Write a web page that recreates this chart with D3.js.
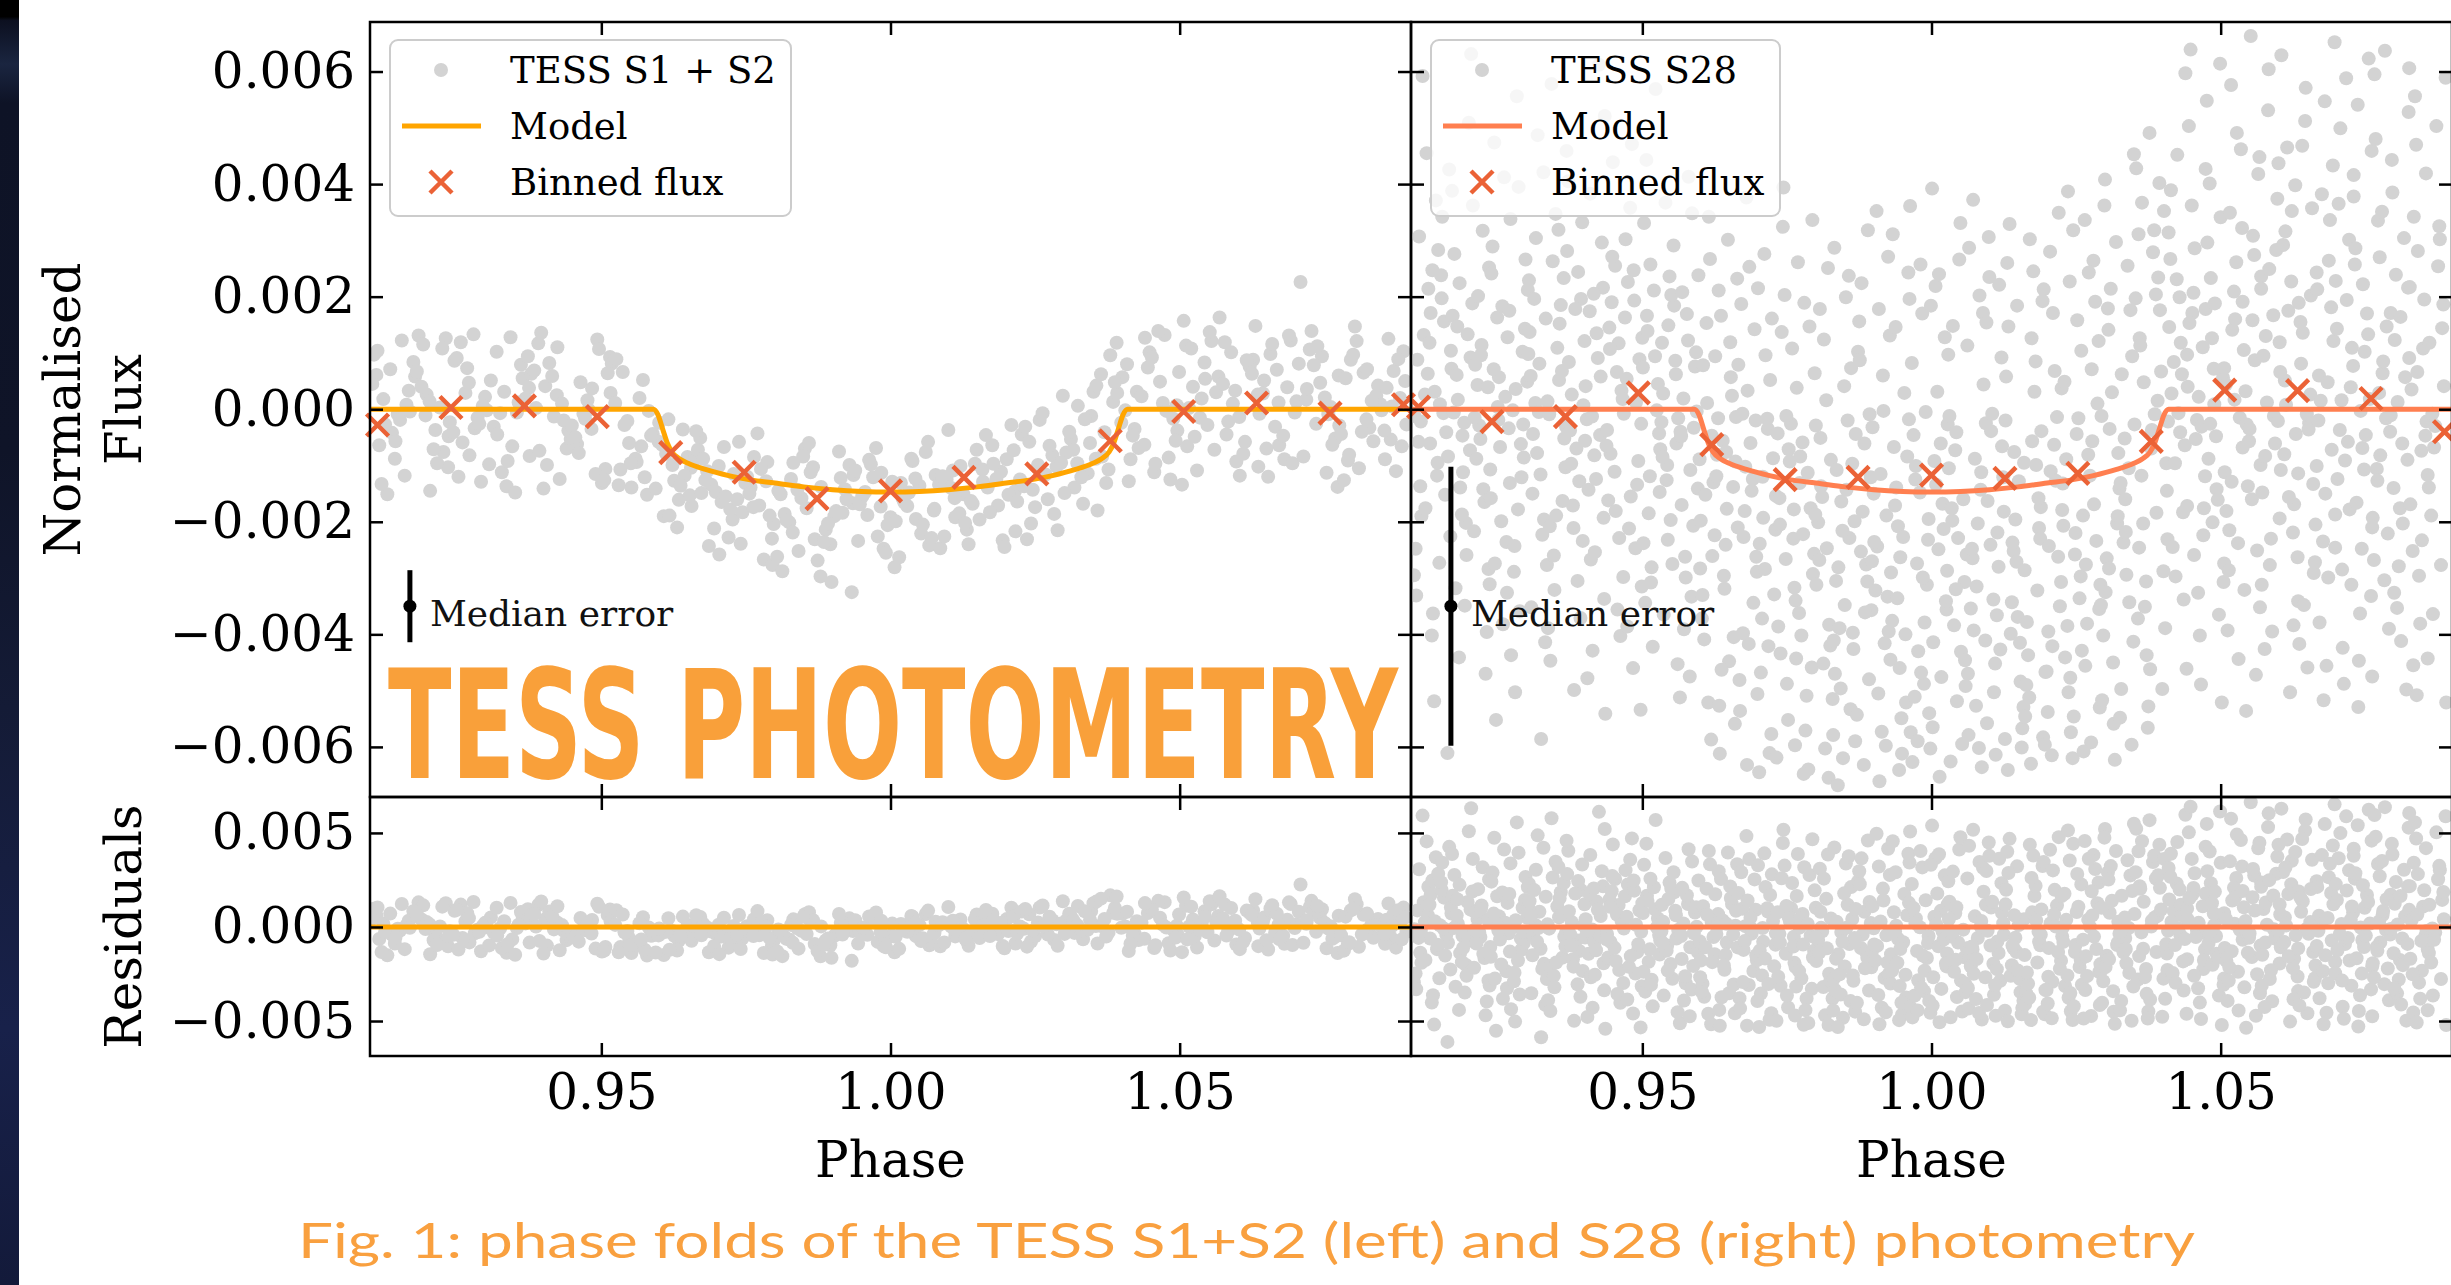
<!DOCTYPE html>
<html>
<head>
<meta charset="utf-8">
<script src="https://cdn.jsdelivr.net/npm/d3@7"></script>
<style>
  html, body { margin: 0; padding: 0; background: #fff; }
  svg { display: block; }
</style>
</head>
<body>
<svg id="chart" width="2451" height="1285"></svg>
<script>
// ---- data ----
// scatter points are flat pairs: phase x 1e4, normalised flux x 1e5
const s12Points = [
  9138,-42, 9111,61, 9160,-118, 9123,18, 9148,-9, 9107,97, 9130,-151, 9167,33, 9116,-64, 9155,122, 9126,-27, 9143,-88, 9104,45, 9163,8, 9120,-133, 9135,71, 9152,-19, 9113,104, 9144,-57, 9169,-4,
  9184,131, 9227,-76, 9198,26, 9235,-103, 9178,58, 9213,-37, 9192,115, 9221,3, 9204,-145, 9175,84, 9238,-23, 9189,40, 9210,-71, 9231,126, 9196,-11, 9181,67, 9216,-96, 9203,14, 9236,-48, 9225,108,
  9292,-129, 9265,29, 9246,86, 9281,-34, 9302,-2, 9257,119, 9272,-82, 9309,51, 9286,-15, 9253,-120, 9268,73, 9299,22, 9260,-59, 9279,133, 9244,-41, 9295,6, 9306,-98, 9271,47, 9250,91, 9289,-26,
  9336,-137, 9375,38, 9354,-6, 9319,102, 9346,-66, 9369,19, 9328,-112, 9361,79, 9314,-31, 9343,128, 9376,-83, 9325,-7, 9364,55, 9351,-148, 9332,31, 9373,94, 9320,-45, 9357,12, 9338,-92, 9379,63,
  9418,-13, 9391,117, 9440,-70, 9403,41, 9428,-124, 9387,2, 9410,82, 9447,-53, 9396,136, 9435,-20, 9406,-99, 9423,25, 9384,69, 9443,-38, 9400,-141, 9415,59, 9432,10, 9393,-74, 9424,110, 9449,-29,
  9464,48, 9507,-106, 9478,-1, 9515,93, 9458,-62, 9493,124, 9472,-17, 9501,-131, 9484,37, 9455,-50, 9518,81, 9469,-8, 9490,-115, 9511,64, 9476,16, 9461,-78, 9496,107, 9483,-35, 9516,29, 9505,-126,
  9572,52, 9545,-21, 9526,89, 9561,-94, 9582,-3, 9537,66, 9552,-139, 9589,-44, 9566,20, 9533,-107, 9548,-60, 9579,-152, 9540,-28, 9559,-88, 9524,11, 9575,-121, 9586,-47, 9551,-96, 9530,-135, 9569,-66,
  9616,-18, 9655,-104, 9634,-161, 9599,-58, 9626,-127, 9649,-85, 9608,-190, 9641,-36, 9594,-141, 9623,-99, 9656,-172, 9605,-63, 9644,-118, 9631,-210, 9612,-79, 9653,-153, 9600,-24, 9637,-136, 9618,-189, 9659,-92,
  9698,-147, 9671,-51, 9720,-228, 9683,-110, 9708,-165, 9667,-72, 9690,-134, 9727,-196, 9676,-88, 9715,-155, 9686,-243, 9703,-101, 9664,-39, 9723,-178, 9680,-126, 9695,-212, 9712,-67, 9673,-149, 9704,-258, 9729,-115,
  9744,-183, 9787,-94, 9758,-139, 9795,-230, 9738,-58, 9773,-171, 9752,-120, 9781,-267, 9764,-85, 9735,-160, 9798,-204, 9749,-131, 9770,-43, 9791,-189, 9756,-150, 9741,-239, 9776,-106, 9763,-174, 9796,-277, 9785,-128,
  9852,-70, 9825,-201, 9806,-145, 9841,-252, 9862,-112, 9817,-186, 9832,-95, 9869,-231, 9846,-158, 9813,-288, 9828,-124, 9859,-60, 9820,-197, 9839,-143, 9804,-262, 9855,-176, 9866,-103, 9831,-219, 9810,-151, 9849,-84,
  9896,-240, 9935,-167, 9914,-122, 9879,-297, 9906,-181, 9929,-99, 9888,-214, 9921,-142, 9874,-269, 9903,-190, 9936,-117, 9885,-236, 9924,-160, 9911,-75, 9892,-203, 9933,-325, 9880,-138, 9917,-184, 9898,-307, 9939,-109,
  9978,-226, 9951,-155, 10000,-192, 9963,-90, 9988,-248, 9947,-169, 9970,-121, 10007,-281, 9956,-147, 9995,-206, 9966,-98, 9983,-173, 9944,-234, 10003,-129, 9960,-188, 9975,-69, 9992,-255, 9953,-151, 9984,-113, 10009,-199,
  10024,-166, 10067,-242, 10038,-92, 10075,-180, 10018,-131, 10053,-221, 10032,-148, 10061,-76, 10044,-195, 10015,-263, 10078,-117, 10029,-172, 10050,-136, 10071,-229, 10036,-88, 10021,-159, 10056,-205, 10043,-123, 10076,-177, 10065,-58,
  10132,-214, 10105,-140, 10086,-247, 10121,-101, 10142,-168, 10097,-125, 10112,-192, 10149,-72, 10126,-151, 10093,-226, 10108,-109, 10139,-163, 10100,-37, 10119,-185, 10084,-134, 10135,-240, 10146,-97, 10111,-158, 10090,-119, 10129,-202,
  10176,-64, 10215,-146, 10194,-233, 10159,-107, 10186,-171, 10209,-28, 10168,-139, 10201,-89, 10154,-196, 10183,-124, 10216,-217, 10165,-46, 10204,-152, 10191,-111, 10172,-183, 10213,-73, 10160,-129, 10197,-245, 10178,-97, 10219,-164,
  10258,-19, 10231,-137, 10280,-82, 10243,-203, 10268,-116, 10227,-45, 10250,-174, 10287,-102, 10236,-231, 10275,-65, 10246,-143, 10263,-7, 10224,-125, 10283,-186, 10240,-58, 10255,-99, 10272,-160, 10233,-31, 10264,-118, 10289,-215,
  10304,-77, 10347,-12, 10318,-139, 10355,-88, 10298,24, 10333,-168, 10312,-53, 10341,-114, 10324,6, 10295,-95, 10358,-180, 10309,-40, 10330,-121, 10351,31, 10316,-72, 10301,-149, 10336,-18, 10323,-96, 10356,42, 10345,-60,
  10412,-128, 10385,13, 10366,-84, 10401,57, 10422,-35, 10377,-107, 10392,29, 10429,-69, 10406,-2, 10373,-131, 10388,48, 10419,-47, 10380,96, 10399,-24, 10364,62, 10415,-89, 10426,31, 10391,118, 10370,-41, 10409,80,
  10456,-112, 10495,7, 10474,132, 10439,-63, 10466,49, 10489,-17, 10448,101, 10481,-86, 10434,23, 10463,139, 10496,-38, 10445,74, 10484,-125, 10471,11, 10452,92, 10493,-56, 10440,127, 10477,-3, 10458,-97, 10499,66,
  10538,19, 10511,113, 10560,-72, 10523,40, 10548,-28, 10507,157, 10530,-109, 10567,58, 10516,2, 10555,121, 10526,-49, 10543,83, 10504,-134, 10563,30, 10520,108, 10535,-15, 10552,137, 10513,-66, 10544,54, 10569,163,
  10584,-22, 10627,88, 10598,-93, 10635,26, 10578,119, 10613,-58, 10592,10, 10621,76, 10604,-118, 10575,45, 10638,-8, 10589,101, 10610,-79, 10631,148, 10596,33, 10581,-45, 10616,87, 10603,-14, 10636,-102, 10625,63,
  10692,122, 10665,-31, 10646,51, 10681,-89, 10702,14, 10657,98, 10672,-64, 10709,226, 10686,39, 10653,-120, 10668,70, 10699,-6, 10660,116, 10679,-47, 10644,28, 10695,-96, 10706,81, 10671,12, 10650,-70, 10689,131,
  10736,-26, 10775,60, 10754,-113, 10719,17, 10746,94, 10769,-52, 10728,139, 10761,4, 10714,-84, 10743,47, 10776,-29, 10725,106, 10764,-63, 10751,21, 10732,78, 10773,-138, 10720,36, 10757,-9, 10738,112, 10779,-44,
  10818,65, 10791,-91, 10840,24, 10803,147, 10828,-33, 10787,55, 10810,-105, 10847,9, 10796,88, 10835,-57, 10806,121, 10823,-18, 10784,-126, 10843,42, 10800,97, 10815,-40, 10832,15, 10793,-81, 10824,71, 10849,-2,
  10874,-110, 10858,38, 10887,103, 10865,-54, 10881,20, 10855,-89, 10870,68, 10892,-27, 10861,125, 10884,-66, 10867,5, 10878,89, 10854,-38, 10890,50
];

const s28Points = [
  9122,132, 9108,-248, 9133,-61, 9114,307, 9127,455, 9106,-12, 9118,-190, 9136,-402, 9111,88, 9130,214, 9116,-137, 9124,26, 9105,-295, 9134,171, 9113,-58, 9120,592, 9129,63, 9109,-331, 9125,-176, 9137,247, 9117,-22, 9132,118,
  9143,371, 9164,-84, 9150,9, 9168,-226, 9140,-519, 9157,156, 9147,283, 9161,-41, 9153,197, 9138,-363, 9170,72, 9145,-118, 9156,-7, 9166,426, 9149,-273, 9141,31, 9159,-152, 9152,238, 9169,104, 9163,-611, 9146,-95, 9154,342,
  9195,-202, 9181,17, 9172,166, 9189,-47, 9200,509, 9177,-318, 9185,-139, 9203,92, 9192,-24, 9175,276, 9183,-441, 9198,133, 9179,61, 9188,-187, 9171,388, 9196,-259, 9202,-73, 9184,224, 9174,-6, 9193,-349, 9180,147, 9190,-112,
  9215,43, 9234,-284, 9224,317, 9206,188, 9220,-53, 9231,-396, 9211,79, 9227,-165, 9204,631, 9218,-29, 9235,252, 9209,-217, 9229,-470, 9222,114, 9213,-88, 9233,39, 9207,362, 9225,-142, 9216,201, 9236,-311, 9210,-15, 9221,96,
  9265,-236, 9244,474, 9252,57, 9237,-107, 9259,-382, 9249,163, 9269,-34, 9241,289, 9256,-199, 9263,22, 9247,-552, 9239,241, 9267,128, 9254,-67, 9245,-274, 9261,412, 9250,4, 9238,-158, 9258,183, 9266,-326, 9243,71, 9251,-19,
  9272,338, 9291,-121, 9279,-243, 9301,49, 9283,556, 9295,-86, 9270,175, 9288,-359, 9276,-2, 9298,266, 9285,-178, 9293,102, 9273,-437, 9281,36, 9302,212, 9290,-62, 9278,-289, 9297,143, 9286,395, 9271,-131, 9294,-27, 9280,-503,
  9322,81, 9304,229, 9330,-196, 9315,11, 9308,-352, 9333,161, 9319,487, 9311,-44, 9327,-223, 9303,98, 9324,-116, 9316,304, 9332,-414, 9307,59, 9321,-5, 9313,196, 9335,-277, 9310,-150, 9329,421, 9318,-78, 9305,137, 9325,-586,
  9345,263, 9368,-31, 9340,-208, 9356,52, 9350,347, 9362,-163, 9337,-389, 9353,109, 9365,-52, 9343,578, 9359,185, 9347,-260, 9336,14, 9367,-103, 9355,319, 9341,-447, 9361,68, 9351,-189, 9364,233, 9339,-9, 9348,-321, 9357,152,
  9386,-70, 9372,405, 9397,-234, 9378,26, 9391,-128, 9370,281, 9382,-499, 9400,121, 9375,-38, 9394,196, 9380,-171, 9388,-305, 9369,459, 9398,7, 9377,-97, 9384,178, 9393,-371, 9373,84, 9389,244, 9401,-56, 9381,-211, 9396,332,
  9407,-143, 9428,58, 9414,-429, 9432,216, 9404,-18, 9421,135, 9411,-267, 9425,612, 9417,-82, 9402,41, 9434,-337, 9409,174, 9420,-124, 9430,296, 9413,-13, 9405,-478, 9423,91, 9416,205, 9433,-193, 9427,-46, 9410,383, 9418,-254,
  9459,117, 9445,-79, 9436,-541, 9453,255, 9464,33, 9441,-162, 9449,439, 9467,-298, 9456,66, 9439,-37, 9447,190, 9462,-403, 9443,145, 9452,-111, 9435,521, 9460,-229, 9466,18, 9448,271, 9438,-65, 9457,-356, 9444,107, 9454,-181,
  9479,358, 9498,-26, 9488,-247, 9470,163, 9484,-460, 9495,89, 9475,226, 9491,-134, 9468,-8, 9482,471, 9499,-315, 9473,54, 9493,-92, 9486,193, 9477,-212, 9497,-534, 9471,302, 9489,12, 9480,-155, 9500,127, 9474,-386, 9485,247,
  9529,-43, 9508,166, 9516,-281, 9501,74, 9523,569, 9513,-119, 9533,-23, 9505,-344, 9520,211, 9527,45, 9511,-185, 9503,331, 9531,-71, 9518,-422, 9509,139, 9525,-2, 9514,257, 9502,-238, 9522,94, 9530,-147, 9507,443, 9515,-308,
  9536,28, 9555,184, 9543,-99, 9565,-512, 9547,236, 9559,-61, 9534,118, 9552,-275, 9540,367, 9562,-16, 9549,-197, 9557,86, 9537,-365, 9545,149, 9566,-40, 9554,291, 9542,-126, 9561,-453, 9550,203, 9535,-85, 9558,62, 9544,-232,
  9586,348, 9568,-170, 9594,-4, 9579,122, 9572,-391, 9597,238, 9583,-108, 9575,-299, 9591,76, 9567,-48, 9588,-207, 9580,413, 9596,-141, 9571,19, 9585,-333, 9577,169, 9599,-89, 9574,-262, 9593,101, 9582,-475, 9569,208, 9589,-33,
  9609,-152, 9632,211, 9604,-330, 9620,-47, 9614,-521, 9626,94, 9601,-198, 9617,267, 9629,-81, 9607,-409, 9623,-130, 9611,153, 9600,-283, 9631,-16, 9619,-587, 9605,78, 9625,-224, 9615,342, 9628,-119, 9603,-372, 9612,11, 9621,-261,
  9650,-448, 9636,166, 9661,-93, 9642,-319, 9655,24, 9634,-612, 9646,-177, 9664,232, 9639,-56, 9658,-405, 9644,-241, 9652,119, 9633,-527, 9662,-14, 9641,-296, 9648,301, 9657,-138, 9637,-463, 9653,57, 9665,-210, 9645,-76, 9660,-559,
  9671,187, 9692,-344, 9678,-102, 9696,-20, 9668,-481, 9685,253, 9675,-227, 9689,-145, 9681,-632, 9666,79, 9698,-289, 9673,-8, 9684,-417, 9694,142, 9677,-181, 9669,-536, 9687,-60, 9680,376, 9697,-262, 9691,-124, 9674,-398, 9682,33,
  9723,-577, 9709,-193, 9700,215, 9717,-35, 9728,-329, 9705,-468, 9713,96, 9731,-154, 9720,-611, 9703,-239, 9711,276, 9726,-87, 9707,-372, 9716,-17, 9699,-506, 9724,161, 9730,-214, 9712,-284, 9702,-645, 9721,52, 9708,-120, 9718,-421,
  9743,324, 9762,-178, 9752,-552, 9734,-43, 9748,-266, 9759,108, 9739,-434, 9755,-93, 9732,-619, 9746,203, 9763,-317, 9737,-158, 9757,-26, 9750,-488, 9741,137, 9761,-230, 9735,-386, 9753,-71, 9744,394, 9764,-597, 9738,-205, 9749,-12,
  9793,-459, 9772,-131, 9780,189, 9765,-340, 9787,-640, 9777,-59, 9797,-257, 9769,261, 9784,-509, 9791,-176, 9775,-402, 9767,38, 9795,-293, 9782,-571, 9773,-84, 9789,147, 9778,-222, 9766,-443, 9786,-113, 9794,336, 9771,-362, 9779,-648,
  9800,-29, 9819,-247, 9807,178, 9829,-515, 9811,-156, 9823,-383, 9798,64, 9816,-603, 9804,-201, 9826,-90, 9813,-452, 9821,251, 9801,-312, 9809,-137, 9830,-579, 9818,16, 9806,-268, 9825,-420, 9814,124, 9799,-187, 9822,-655, 9808,-51,
  9850,-348, 9832,287, 9858,-229, 9843,-496, 9836,-108, 9861,73, 9847,-620, 9839,-281, 9855,-20, 9831,-411, 9852,199, 9844,-164, 9860,-533, 9835,-305, 9849,41, 9841,-389, 9863,-97, 9838,-668, 9857,237, 9846,-216, 9833,-470, 9853,-143,
  9873,102, 9896,-357, 9868,-590, 9884,-61, 9878,-253, 9890,318, 9865,-426, 9881,-182, 9893,-9, 9871,-543, 9887,-276, 9875,156, 9864,-397, 9895,-121, 9883,-632, 9869,-44, 9889,-306, 9879,224, 9892,-480, 9867,-199, 9876,87, 9885,-361,
  9914,-573, 9900,-150, 9925,271, 9906,-244, 9919,-416, 9898,-32, 9910,-661, 9928,131, 9903,-322, 9922,-189, 9908,-505, 9916,60, 9897,-270, 9926,-395, 9905,352, 9912,-115, 9921,-598, 9901,-236, 9917,-3, 9929,-445, 9909,178, 9924,-333,
  9935,-67, 9956,-521, 9942,-208, 9960,243, 9932,-376, 9949,-612, 9939,-139, 9953,29, 9945,-460, 9930,-290, 9962,196, 9937,-171, 9948,-549, 9958,-84, 9941,-336, 9933,311, 9951,-227, 9944,-641, 9961,-18, 9955,-400, 9938,146, 9946,-263,
  9987,-488, 9973,-101, 9964,-574, 9981,257, 9992,-312, 9969,-46, 9977,-430, 9995,-195, 9984,170, 9967,-627, 9975,-274, 9990,-5, 9971,-511, 9980,-148, 9963,361, 9988,-379, 9994,-232, 9976,-590, 9966,82, 9985,-299, 9972,-125, 9982,-468,
  10007,219, 10026,-356, 10016,-61, 9998,-603, 10012,-249, 10023,128, 10003,-414, 10019,-168, 9996,-540, 10010,31, 10027,-287, 10001,392, 10021,-213, 10014,-653, 10005,-92, 10025,-341, 9999,184, 10017,-476, 10008,-134, 10028,-27, 10002,-565, 10013,240,
  10057,-307, 10036,-198, 10044,-519, 10029,97, 10051,-431, 10041,-73, 10061,-258, 10033,-626, 10048,266, 10055,-160, 10039,-384, 10031,-12, 10059,-492, 10046,-229, 10037,148, 10053,-595, 10042,-320, 10030,-105, 10050,331, 10058,-446, 10035,-176, 10043,-41,
  10064,-579, 10083,202, 10071,-265, 10093,-411, 10075,-88, 10087,-636, 10062,113, 10080,-203, 10068,-354, 10090,44, 10077,-527, 10085,-143, 10065,287, 10073,-393, 10094,-25, 10082,-602, 10070,-248, 10089,171, 10078,-315, 10063,-470, 10086,-112, 10072,372,
  10114,-219, 10096,-558, 10122,-66, 10107,-338, 10100,235, 10125,-182, 10111,-614, 10103,-39, 10119,-427, 10095,154, 10116,-280, 10108,-503, 10124,-121, 10099,306, 10113,-366, 10105,-8, 10127,-586, 10102,-241, 10121,92, 10110,-452, 10097,-163, 10117,221,
  10137,-399, 10160,-95, 10132,-641, 10148,184, 10142,-252, 10154,-484, 10129,58, 10145,-196, 10157,-567, 10135,329, 10151,-128, 10139,-343, 10128,-20, 10159,-529, 10147,-271, 10133,147, 10153,-415, 10143,-76, 10156,-601, 10131,260, 10140,-237, 10149,-369,
  10178,31, 10164,-490, 10189,-174, 10170,302, 10183,-322, 10162,-546, 10174,-57, 10192,192, 10167,-437, 10186,-211, 10172,-630, 10180,85, 10161,-286, 10190,-39, 10169,-512, 10176,245, 10185,-158, 10165,-378, 10181,-99, 10193,-583, 10173,126, 10188,-230,
  10199,-466, 10220,349, 10206,-110, 10224,-307, 10196,-596, 10213,68, 10203,-243, 10217,-14, 10209,-421, 10194,213, 10226,-179, 10201,-538, 10212,-63, 10222,-350, 10205,280, 10197,-467, 10215,-127, 10208,-615, 10225,37, 10219,-262, 10202,-395, 10210,171,
  10251,-44, 10237,-503, 10228,-207, 10245,318, 10256,-336, 10233,-89, 10241,-574, 10259,104, 10248,-258, 10231,-441, 10239,227, 10254,-16, 10235,-385, 10244,-620, 10227,-132, 10252,158, 10258,-297, 10240,-477, 10230,49, 10249,-220, 10236,387, 10246,-546,
  10271,-81, 10290,-355, 10280,264, 10262,-189, 10276,-592, 10287,10, 10267,-276, 10283,191, 10260,-429, 10274,-118, 10291,-530, 10265,336, 10285,-234, 10278,-57, 10269,-381, 10289,121, 10263,-608, 10281,-169, 10272,243, 10292,-312, 10266,-456, 10277,71,
  10321,-203, 10300,408, 10308,-35, 10293,-348, 10315,-559, 10305,179, 10325,-141, 10297,-402, 10312,30, 10319,297, 10303,-265, 10295,-517, 10323,-78, 10310,214, 10301,-325, 10317,-623, 10306,141, 10294,-12, 10314,-450, 10322,-190, 10299,362, 10307,-283,
  10328,-497, 10347,94, 10335,-160, 10357,-372, 10339,255, 10351,-27, 10326,-548, 10344,176, 10332,-237, 10354,428, 10341,-105, 10349,-413, 10329,62, 10337,-294, 10358,311, 10346,-596, 10334,-52, 10353,197, 10342,-343, 10327,-131, 10350,453, 10336,-218,
  10378,-462, 10360,126, 10386,-9, 10371,-306, 10364,367, 10389,-184, 10375,-528, 10367,48, 10383,279, 10359,-246, 10380,-70, 10372,-437, 10388,204, 10363,-118, 10377,491, 10369,-351, 10391,15, 10366,-203, 10385,318, 10374,-566, 10361,113, 10381,-37,
  10401,-288, 10394,402, 10407,-145, 10397,67, 10404,-389, 10392,234, 10409,-22, 10399,-497, 10395,176, 10406,-96, 10402,352, 10408,-231,
  10419,84, 10442,-172, 10414,389, 10430,-41, 10424,231, 10436,-338, 10411,146, 10427,-7, 10439,597, 10417,-245, 10433,62, 10421,-96, 10410,314, 10441,-461, 10429,199, 10415,28, 10435,-183, 10425,452, 10438,-64, 10413,267, 10422,-297, 10431,118,
  10459,-19, 10445,503, 10470,-224, 10451,171, 10464,-402, 10443,40, 10455,286, 10473,-119, 10448,639, 10467,-31, 10453,207, 10461,-326, 10442,97, 10471,-176, 10450,362, 10457,-53, 10466,-489, 10446,153, 10462,22, 10474,427, 10454,-259, 10469,110,
  10479,-88, 10500,341, 10486,-201, 10504,56, 10476,548, 10493,-142, 10483,233, 10497,-365, 10489,9, 10474,178, 10506,-274, 10481,401, 10492,-48, 10502,-521, 10485,126, 10477,296, 10495,-161, 10488,72, 10505,-307, 10499,614, 10482,-26, 10490,188,
  10530,-238, 10516,349, 10507,-112, 10524,17, 10535,462, 10512,-393, 10520,141, 10538,-68, 10527,261, 10510,-181, 10518,576, 10533,-15, 10514,-286, 10523,209, 10506,73, 10531,-444, 10537,322, 10519,-129, 10509,44, 10528,491, 10515,-215, 10525,160,
  10549,-57, 10568,-352, 10558,274, 10540,105, 10554,-160, 10565,418, 10545,-27, 10561,-472, 10538,191, 10552,663, 10569,-99, 10543,32, 10563,-251, 10556,308, 10547,-137, 10567,448, 10541,-321, 10559,87, 10550,-35, 10570,236, 10544,-536, 10555,158,
  10598,374, 10577,-83, 10585,-277, 10570,214, 10592,-12, 10582,531, 10602,-194, 10574,95, 10589,-395, 10596,283, 10580,12, 10572,-148, 10600,437, 10587,-230, 10578,130, 10594,-61, 10583,604, 10571,-312, 10591,167, 10599,-21, 10576,-426, 10584,249,
  10604,-108, 10623,352, 10611,51, 10633,-263, 10615,465, 10627,-169, 10602,119, 10620,-503, 10608,292, 10630,-44, 10617,175, 10625,-219, 10605,629, 10613,8, 10634,-341, 10622,227, 10610,-80, 10629,398, 10618,-156, 10603,66, 10626,-384, 10612,316,
  10653,-25, 10635,189, 10661,-291, 10646,512, 10639,81, 10664,-205, 10650,-459, 10642,136, 10658,357, 10634,-114, 10655,26, 10647,571, 10663,-272, 10638,155, 10652,-36, 10644,-348, 10666,243, 10641,468, 10660,-133, 10649,-9, 10636,-417, 10656,202,
  10675,382, 10698,-187, 10670,60, 10686,-299, 10680,547, 10692,-72, 10667,213, 10683,-456, 10695,121, 10673,15, 10689,336, 10677,-235, 10666,-101, 10697,652, 10685,48, 10671,-379, 10691,181, 10681,-150, 10694,433, 10669,-20, 10678,-517, 10687,264,
  10715,-91, 10701,143, 10726,-312, 10707,499, 10720,-58, 10699,228, 10711,-424, 10729,77, 10704,365, 10723,-178, 10709,16, 10717,588, 10698,-246, 10727,109, 10706,-37, 10713,-488, 10722,301, 10702,-124, 10718,194, 10730,416, 10710,-285, 10725,39,
  10735,-166, 10756,623, 10742,-3, 10760,-332, 10732,257, 10749,102, 10739,-447, 10753,170, 10745,-69, 10730,378, 10762,-210, 10737,541, 10748,-107, 10758,18, 10741,-363, 10733,286, 10751,-46, 10744,-248, 10761,459, 10755,133, 10738,-529, 10746,222,
  10786,-16, 10772,335, 10763,-193, 10780,64, 10791,-390, 10768,480, 10776,-82, 10794,171, 10783,-304, 10766,595, 10774,29, 10789,-221, 10770,-106, 10779,351, 10762,-475, 10787,147, 10793,-40, 10775,270, 10765,-268, 10784,637, 10771,-127, 10781,85,
  10805,-353, 10824,216, 10814,-61, 10796,443, 10810,-176, 10821,-498, 10801,123, 10817,304, 10794,-11, 10808,-279, 10825,528, 10799,-140, 10819,57, 10812,-412, 10803,239, 10823,-90, 10797,385, 10815,-203, 10806,13, 10826,606, 10800,-326, 10811,164,
  10854,-47, 10833,-455, 10841,281, 10826,91, 10848,-233, 10838,470, 10858,-117, 10830,35, 10845,-381, 10852,195, 10836,556, 10828,-169, 10856,-22, 10843,-296, 10834,342, 10850,108, 10839,-508, 10827,217, 10847,-74, 10855,419, 10832,-252, 10840,66,
  10860,-139, 10879,302, 10867,-364, 10889,589, 10871,-30, 10883,144, 10858,-443, 10876,254, 10864,-189, 10886,41, 10873,503, 10881,-277, 10861,118, 10869,-68, 10890,-521, 10878,325, 10866,-8, 10885,186
];

// transit model (same shape in both folds)
const modelPhase = [0.9100, 0.9590, 0.9598, 0.9606, 0.9614, 0.9622, 0.9635, 0.9650, 0.9680, 0.9720, 0.9760, 0.9800, 0.9850, 0.9900, 0.9950, 1.0000,
                    1.0050, 1.0100, 1.0150, 1.0200, 1.0240, 1.0280, 1.0320, 1.0350, 1.0365, 1.0378, 1.0386, 1.0394, 1.0402, 1.0410, 1.0900];
const modelFlux = [0, 0, -0.00010, -0.00035, -0.00060, -0.00076, -0.00088, -0.00096, -0.00107, -0.00118, -0.00126, -0.00131, -0.00138, -0.00143, -0.00146, -0.00147,
                   -0.00146, -0.00143, -0.00138, -0.00131, -0.00126, -0.00118, -0.00107, -0.00096, -0.00088, -0.00076, -0.00060, -0.00035, -0.00010, 0, 0];

// binned flux (x marks)
const binPhase = [0.9113, 0.9240, 0.9367, 0.9493, 0.9620, 0.9747, 0.9873, 1.0000, 1.0127, 1.0253, 1.0380, 1.0507, 1.0633, 1.0760, 1.0887];
const binS12 = [-0.00028, 0.00003, 0.00006, -0.00013, -0.00077, -0.00112, -0.00159, -0.00145, -0.00121, -0.00115, -0.00056, -0.00004, 0.00011, -0.00007, 0.00008];
const binS28 = [0.00004, -0.00022, -0.00013, 0.00029, -0.00063, -0.00125, -0.00121, -0.00117, -0.00123, -0.00114, -0.00057, 0.00034, 0.00033, 0.00019, -0.00040];

// median error bar: [phase, flux] and half length
const medianErrPos = [0.9169, -0.0035];
const medianErrS12 = 0.00064;
const medianErrS28 = 0.00248;

const fluxTicks = [-0.006, -0.004, -0.002, 0, 0.002, 0.004, 0.006];
const residTicks = [-0.005, 0, 0.005];
const phaseTicks = [0.95, 1.00, 1.05];

const panels = [
  { points: s12Points, bins: binS12, err: medianErrS12, color: '#FFA500', label: 'TESS S1 + S2', x0: 370, x1: 1411, legendW: 401 },
  { points: s28Points, bins: binS28, err: medianErrS28, color: '#FF7F50', label: 'TESS S28', x0: 1411, x1: 2452, legendW: 349 },
];

// ---- layout ----
const W = 2451, H = 1285;
const topY0 = 22, topY1 = 797, resY1 = 1056;
const SERIF = '"DejaVu Serif", serif';
const GREY = '#D3D3D3';
const XCOL = '#EB6236';

const svg = d3.select('#chart');
svg.append('rect').attr('width', W).attr('height', H).attr('fill', '#fff');

// dark strip on the left edge of the slide
const defs = svg.append('defs');
const grad = defs.append('linearGradient').attr('id', 'strip').attr('x1', 0).attr('y1', 0).attr('x2', 0).attr('y2', 1);
[[0, '#000000'], [0.013, '#000000'], [0.016, '#0c1020'], [0.05, '#1a2540'], [0.08, '#0e1326'], [0.35, '#0f1428'],
 [0.55, '#141b36'], [0.8, '#18214a'], [1, '#131a3a']].forEach(([o, c]) => grad.append('stop').attr('offset', o).attr('stop-color', c));
svg.append('rect').attr('x', 0).attr('y', 0).attr('width', 19).attr('height', H).attr('fill', 'url(#strip)');

const modelScale = d3.scaleLinear().domain(modelPhase).range(modelFlux);
const yTop = d3.scaleLinear().domain([-0.00689, 0.00688]).range([topY1, topY0]);
const yRes = d3.scaleLinear().domain([-0.00686, 0.00691]).range([resY1, topY1]);

const crossPath = 'M-11,-11L11,11M11,-11L-11,11';

panels.forEach((p, i) => {
  const x = d3.scaleLinear().domain([0.91, 1.09]).range([p.x0, p.x1]);
  const pts = d3.range(0, p.points.length, 2).map(k => ({ phase: p.points[k] / 1e4, flux: p.points[k + 1] / 1e5 }));

  defs.append('clipPath').attr('id', `clipTop${i}`).append('rect')
    .attr('x', p.x0).attr('y', topY0).attr('width', p.x1 - p.x0).attr('height', topY1 - topY0);
  defs.append('clipPath').attr('id', `clipRes${i}`).append('rect')
    .attr('x', p.x0).attr('y', topY1).attr('width', p.x1 - p.x0).attr('height', resY1 - topY1);

  // --- upper panel
  const gTop = svg.append('g');
  gTop.append('g').attr('clip-path', `url(#clipTop${i})`)
    .selectAll('circle').data(pts).join('circle')
    .attr('cx', d => x(d.phase)).attr('cy', d => yTop(d.flux)).attr('r', 7).attr('fill', GREY);

  const line = d3.line().x((d, k) => x(modelPhase[k])).y(d => yTop(d)).curve(d3.curveMonotoneX);
  gTop.append('path').datum(modelFlux).attr('d', line)
    .attr('fill', 'none').attr('stroke', p.color).attr('stroke-width', 5).attr('clip-path', `url(#clipTop${i})`);

  gTop.selectAll('path.bin').data(p.bins).join('path').attr('class', 'bin')
    .attr('transform', (d, k) => `translate(${x(binPhase[k])},${yTop(d)})`)
    .attr('d', crossPath).attr('stroke', XCOL).attr('stroke-width', 4.5).attr('fill', 'none');

  // median error
  const ex = x(medianErrPos[0]), ey = yTop(medianErrPos[1]);
  gTop.append('line').attr('x1', ex).attr('x2', ex)
    .attr('y1', yTop(medianErrPos[1] + p.err)).attr('y2', yTop(medianErrPos[1] - p.err))
    .attr('stroke', '#000').attr('stroke-width', 5);
  gTop.append('circle').attr('cx', ex).attr('cy', ey).attr('r', 6.5).attr('fill', '#000');
  gTop.append('text').attr('x', ex + 20).attr('y', ey + 20)
    .attr('font-family', SERIF).attr('font-size', 36).attr('fill', '#111').text('Median error');

  // --- residual panel
  const gRes = svg.append('g');
  gRes.append('g').attr('clip-path', `url(#clipRes${i})`)
    .selectAll('circle').data(pts).join('circle')
    .attr('cx', d => x(d.phase)).attr('cy', d => yRes(d.flux - modelScale(d.phase))).attr('r', 7).attr('fill', GREY);
  gRes.append('line').attr('x1', p.x0).attr('x2', p.x1).attr('y1', yRes(0)).attr('y2', yRes(0))
    .attr('stroke', p.color).attr('stroke-width', 5);

  // --- axes, inward ticks on all sides
  const tick = 13;
  const axisStyle = g => {
    g.select('.domain').remove();
    g.selectAll('.tick line').attr('stroke', '#000').attr('stroke-width', 2.5);
    g.selectAll('.tick text').attr('font-family', SERIF).attr('font-size', 50).attr('fill', '#000');
  };
  const fmtY = d3.format('.3f');
  const fmtX = d3.format('.2f');
  const none = () => '';

  svg.append('g').attr('transform', `translate(${p.x0},0)`)
    .call(d3.axisLeft(yTop).tickValues(fluxTicks).tickSize(-tick).tickPadding(15).tickFormat(i === 0 ? fmtY : none))
    .call(axisStyle);
  svg.append('g').attr('transform', `translate(${p.x1},0)`)
    .call(d3.axisRight(yTop).tickValues(fluxTicks).tickSize(-tick).tickFormat(none)).call(axisStyle);
  svg.append('g').attr('transform', `translate(${p.x0},0)`)
    .call(d3.axisLeft(yRes).tickValues(residTicks).tickSize(-tick).tickPadding(15).tickFormat(i === 0 ? fmtY : none))
    .call(axisStyle);
  svg.append('g').attr('transform', `translate(${p.x1},0)`)
    .call(d3.axisRight(yRes).tickValues(residTicks).tickSize(-tick).tickFormat(none)).call(axisStyle);

  svg.append('g').attr('transform', `translate(0,${topY0})`)
    .call(d3.axisTop(x).tickValues(phaseTicks).tickSize(-tick).tickFormat(none)).call(axisStyle);
  svg.append('g').attr('transform', `translate(0,${topY1})`)
    .call(d3.axisBottom(x).tickValues(phaseTicks).tickSize(-tick).tickFormat(none)).call(axisStyle);
  svg.append('g').attr('transform', `translate(0,${topY1})`)
    .call(d3.axisTop(x).tickValues(phaseTicks).tickSize(-tick).tickFormat(none)).call(axisStyle);
  svg.append('g').attr('transform', `translate(0,${resY1})`)
    .call(d3.axisBottom(x).tickValues(phaseTicks).tickSize(-tick).tickPadding(17).tickFormat(fmtX)).call(axisStyle);

  // frames
  [[topY0, topY1], [topY1, resY1]].forEach(([a, b]) => {
    svg.append('rect').attr('x', p.x0).attr('y', a).attr('width', p.x1 - p.x0).attr('height', b - a)
      .attr('fill', 'none').attr('stroke', '#000').attr('stroke-width', 2.5);
  });

  // x label
  svg.append('text').attr('x', (p.x0 + p.x1) / 2).attr('y', 1177).attr('text-anchor', 'middle')
    .attr('font-family', SERIF).attr('font-size', 50).attr('fill', '#000').text('Phase');

  // legend
  const lx = p.x0 + 20, ly = 40;
  const lg = svg.append('g');
  lg.append('rect').attr('x', lx).attr('y', ly).attr('width', p.legendW).attr('height', 176).attr('rx', 8)
    .attr('fill', '#fff').attr('fill-opacity', 0.8).attr('stroke', '#cccccc').attr('stroke-width', 2);
  const rows = [70, 126, 182];
  lg.append('circle').attr('cx', lx + 51).attr('cy', rows[0]).attr('r', 7).attr('fill', GREY);
  lg.append('line').attr('x1', lx + 12).attr('x2', lx + 91).attr('y1', rows[1]).attr('y2', rows[1])
    .attr('stroke', p.color).attr('stroke-width', 5);
  lg.append('path').attr('transform', `translate(${lx + 51},${rows[2]})`).attr('d', crossPath)
    .attr('stroke', XCOL).attr('stroke-width', 4.5).attr('fill', 'none');
  [p.label, 'Model', 'Binned flux'].forEach((t, k) => {
    lg.append('text').attr('x', lx + 120).attr('y', rows[k] + 13)
      .attr('font-family', SERIF).attr('font-size', 37).attr('fill', '#000').text(t);
  });
});

// y labels
const yLab = (txt, bx, cy) => svg.append('text').attr('transform', `translate(${bx},${cy}) rotate(-90)`)
  .attr('text-anchor', 'middle').attr('font-family', SERIF).attr('font-size', 50).attr('fill', '#000').text(txt);
yLab('Normalised', 80, (topY0 + topY1) / 2);
yLab('Flux', 141, (topY0 + topY1) / 2);
yLab('Residuals', 141, (topY1 + resY1) / 2);

// overlay title, squeezed horizontally to its width on the slide
const title = svg.append('text').attr('x', 0).attr('y', 0)
  .attr('font-family', '"DejaVu Sans Condensed", "DejaVu Sans", sans-serif').attr('font-weight', 'bold')
  .attr('font-size', 152).attr('fill', '#F9A03A').text('TESS PHOTOMETRY');
const titleLen = title.node().getComputedTextLength();
title.attr('transform', `translate(388,778) scale(${1010 / titleLen},1)`);

svg.append('text').attr('x', 298).attr('y', 1258)
  .attr('font-family', 'Lato, sans-serif').attr('font-size', 48).attr('fill', '#F9A03F')
  .attr('textLength', 1897).attr('lengthAdjust', 'spacingAndGlyphs')
  .text('Fig. 1: phase folds of the TESS S1+S2 (left) and S28 (right) photometry');
</script>
</body>
</html>
